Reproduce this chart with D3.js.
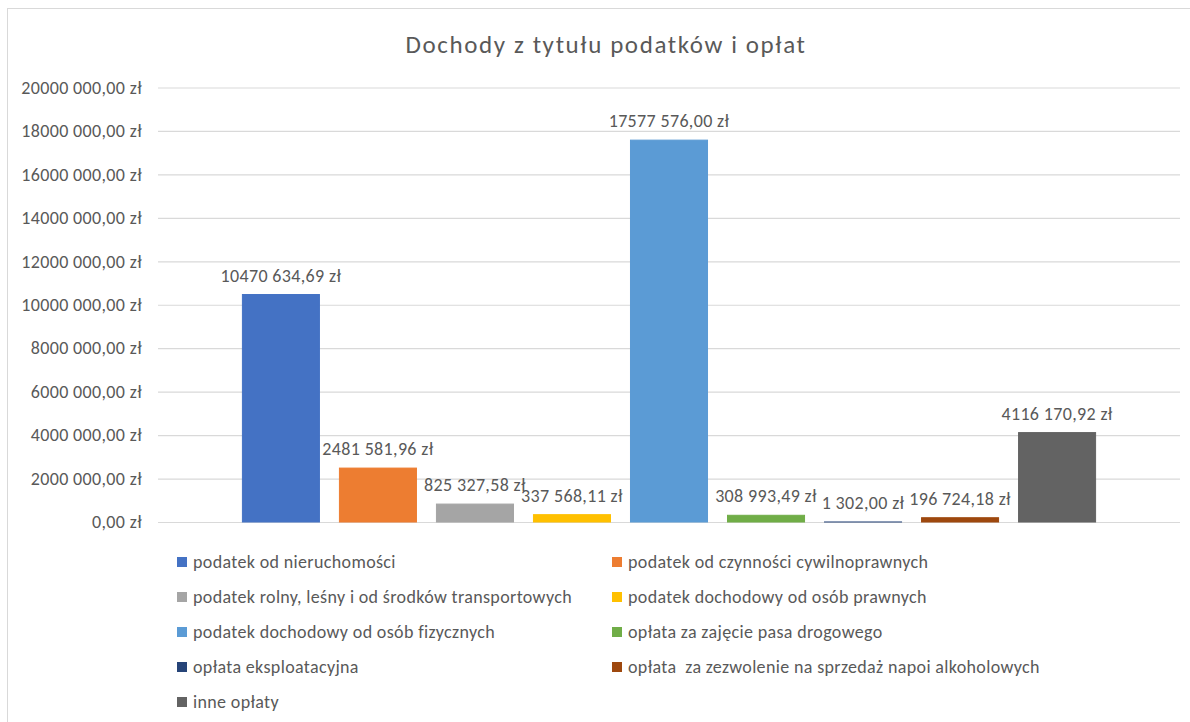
<!DOCTYPE html>
<html>
<head>
<meta charset="utf-8">
<script src="https://cdn.jsdelivr.net/npm/d3@7"></script>
<style>
  body { margin: 0; background: #fff; }
  text { font-family: Carlito, Lato, "Open Sans", sans-serif; fill: #595959; }
</style>
</head>
<body>
<svg width="1190" height="722"></svg>
<script>
var title = "Dochody z tytułu podatków i opłat";

var seriesNames = [
  "podatek od nieruchomości",
  "podatek od czynności cywilnoprawnych",
  "podatek rolny, leśny i od środków transportowych",
  "podatek dochodowy od osób prawnych",
  "podatek dochodowy od osób fizycznych",
  "opłata za zajęcie pasa drogowego",
  "opłata eksploatacyjna",
  "opłata  za zezwolenie na sprzedaż napoi alkoholowych",
  "inne opłaty"
];
var values = [10470634.69, 2481581.96, 825327.58, 337568.11, 17577576.00, 308993.49, 1302.00, 196724.18, 4116170.92];
var colors = ["#4472C4", "#ED7D31", "#A5A5A5", "#FFC000", "#5B9BD5", "#70AD47", "#264478", "#9E480E", "#636363"];
var yTicks = [0, 2000000, 4000000, 6000000, 8000000, 10000000, 12000000, 14000000, 16000000, 18000000, 20000000];

var svg = d3.select("svg"),
    width = +svg.attr("width"),
    height = +svg.attr("height");

// chart frame (only top & left edges are inside the picture)
svg.append("rect")
    .attr("x", 7.5).attr("y", 8.5)
    .attr("width", 1210).attr("height", 740)
    .attr("fill", "none")
    .attr("stroke", "#d9d9d9");

var plotLeft = 158, plotRight = 1180, plotTop = 87.5, plotBottom = 522;
var fs = 18, ls = 0.35;

var y = d3.scaleLinear().domain([0, 20000000]).range([plotBottom, plotTop]);
var x = d3.scaleBand().domain(seriesNames).range([plotLeft, plotRight])
    .paddingInner(0.206).paddingOuter(0.87);

// polish money format: one space before the last 3 digits
function fmt(v) {
  var s = v.toFixed(2).split(".");
  var intPart = s[0];
  if (intPart.length > 3) intPart = intPart.slice(0, -3) + " " + intPart.slice(-3);
  return intPart + "," + s[1] + " zł";
}

svg.append("text")
    .attr("x", 606).attr("y", 53)
    .attr("text-anchor", "middle")
    .attr("font-size", 25)
    .attr("letter-spacing", 1.6)
    .text(title);

// gridlines + y labels
var yAxis = d3.axisLeft(y).tickValues(yTicks).tickSize(-(plotRight - plotLeft)).tickPadding(16).tickFormat(fmt);
var ga = svg.append("g").attr("transform", "translate(" + plotLeft + ",0)").call(yAxis);
ga.select(".domain").remove();
ga.selectAll(".tick line").attr("stroke", "#d9d9d9").attr("stroke-width", 1.2);
ga.selectAll(".tick text").attr("font-size", fs).attr("letter-spacing", ls).attr("fill", "#595959")
    .attr("font-family", "Carlito, Lato, sans-serif");

// bars get a thin outline in their own colour so the tiny one still shows
var bars = svg.append("g").selectAll("rect")
    .data(values)
    .enter().append("rect")
    .attr("x", function(d, i) { return x(seriesNames[i]); })
    .attr("y", function(d) { return y(d); })
    .attr("width", x.bandwidth())
    .attr("height", function(d) { return plotBottom - y(d); })
    .attr("fill", function(d, i) { return colors[i]; })
    .attr("stroke", function(d, i) { return colors[i]; })
    .attr("stroke-width", 1);

svg.append("g").selectAll("text")
    .data(values)
    .enter().append("text")
    .attr("x", function(d, i) { return x(seriesNames[i]) + x.bandwidth() / 2; })
    .attr("y", function(d) { return y(d) - 13; })
    .attr("text-anchor", "middle")
    .attr("font-size", fs)
    .attr("letter-spacing", ls)
    .text(function(d) { return fmt(d); });

// legend, two columns
var legend = svg.append("g").selectAll("g")
    .data(seriesNames)
    .enter().append("g")
    .attr("transform", function(d, i) {
      return "translate(" + (i % 2 == 0 ? 177 : 612) + "," + (562 + Math.floor(i / 2) * 35) + ")";
    });
legend.append("rect")
    .attr("x", 0).attr("y", -5)
    .attr("width", 10).attr("height", 10)
    .attr("fill", function(d, i) { return colors[i]; });
legend.append("text")
    .attr("x", 16).attr("y", 6)
    .attr("font-size", fs)
    .attr("letter-spacing", ls)
    .style("white-space", "pre")
    .text(function(d) { return d; });
</script>
</body>
</html>
